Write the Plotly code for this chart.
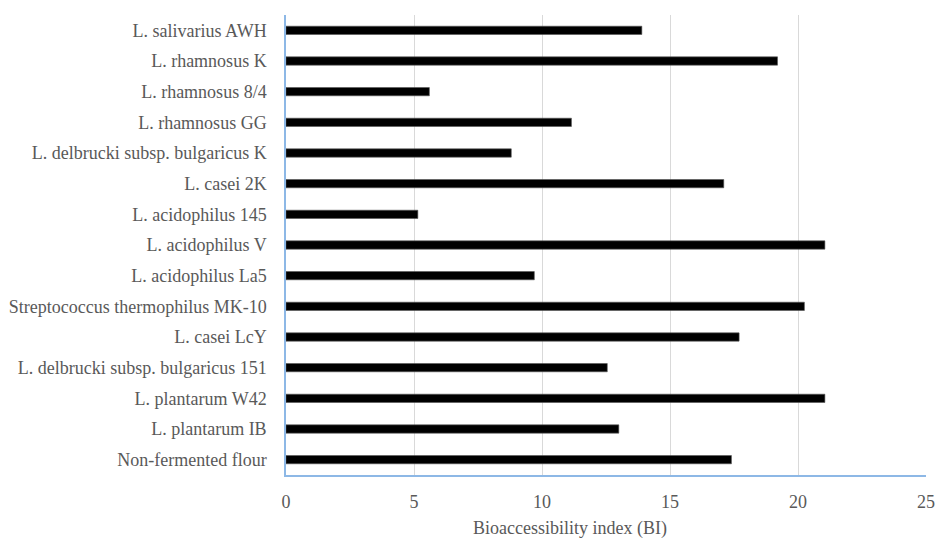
import plotly.graph_objects as go

strains = [
    "L. salivarius AWH",
    "L. rhamnosus K",
    "L. rhamnosus 8/4",
    "L. rhamnosus GG",
    "L. delbrucki subsp. bulgaricus K",
    "L. casei 2K",
    "L. acidophilus 145",
    "L. acidophilus V",
    "L. acidophilus La5",
    "Streptococcus thermophilus MK-10",
    "L. casei LcY",
    "L. delbrucki subsp. bulgaricus 151",
    "L. plantarum W42",
    "L. plantarum IB",
    "Non-fermented flour",
]
bi_values = [13.9, 19.2, 5.6, 11.15, 8.8, 17.1, 5.15, 21.05, 9.7, 20.25, 17.7, 12.55, 21.05, 13.0, 17.4]
x_ticks = [0, 5, 10, 15, 20, 25]
x_title = "Bioaccessibility index (BI)"

font_family = "Liberation Serif, Times New Roman, serif"
text_color = "#595959"

fig = go.Figure(
    go.Bar(
        x=bi_values,
        y=strains,
        orientation="h",
        width=0.27,
        marker=dict(color="#000000", line=dict(color="#555555", width=0.6)),
        hoverinfo="x+y",
    )
)

fig.update_layout(
    width=944,
    height=538,
    margin=dict(l=286, r=9, t=15, b=63),
    paper_bgcolor="white",
    plot_bgcolor="white",
    showlegend=False,
    font=dict(family=font_family, size=18, color=text_color),
    xaxis=dict(
        range=[0, 25],
        tickvals=x_ticks,
        showgrid=True,
        gridcolor="#d9d9d9",
        gridwidth=1,
        zeroline=False,
        showline=True,
        linecolor="#8db8e6",
        linewidth=1.5,
        ticks="",
        ticklabelstandoff=10,
        tickfont=dict(family=font_family, size=18, color=text_color),
    ),
    yaxis=dict(
        autorange="reversed",
        showgrid=False,
        zeroline=False,
        showline=True,
        linecolor="#8db8e6",
        linewidth=1.5,
        ticks="",
        ticklabelstandoff=14,
        tickfont=dict(family=font_family, size=18, color=text_color),
    ),
    annotations=[
        dict(
            text=x_title,
            xref="paper",
            yref="paper",
            x=(574.5 - 286) / 649,
            y=-(528 - 475) / 460,
            xanchor="center",
            yanchor="middle",
            showarrow=False,
            font=dict(family=font_family, size=18, color=text_color),
        )
    ],
)

fig.write_html(
    "out.html",
    config={"displayModeBar": False},
    post_script="document.body.style.margin='0';document.body.style.overflow='hidden';",
)
